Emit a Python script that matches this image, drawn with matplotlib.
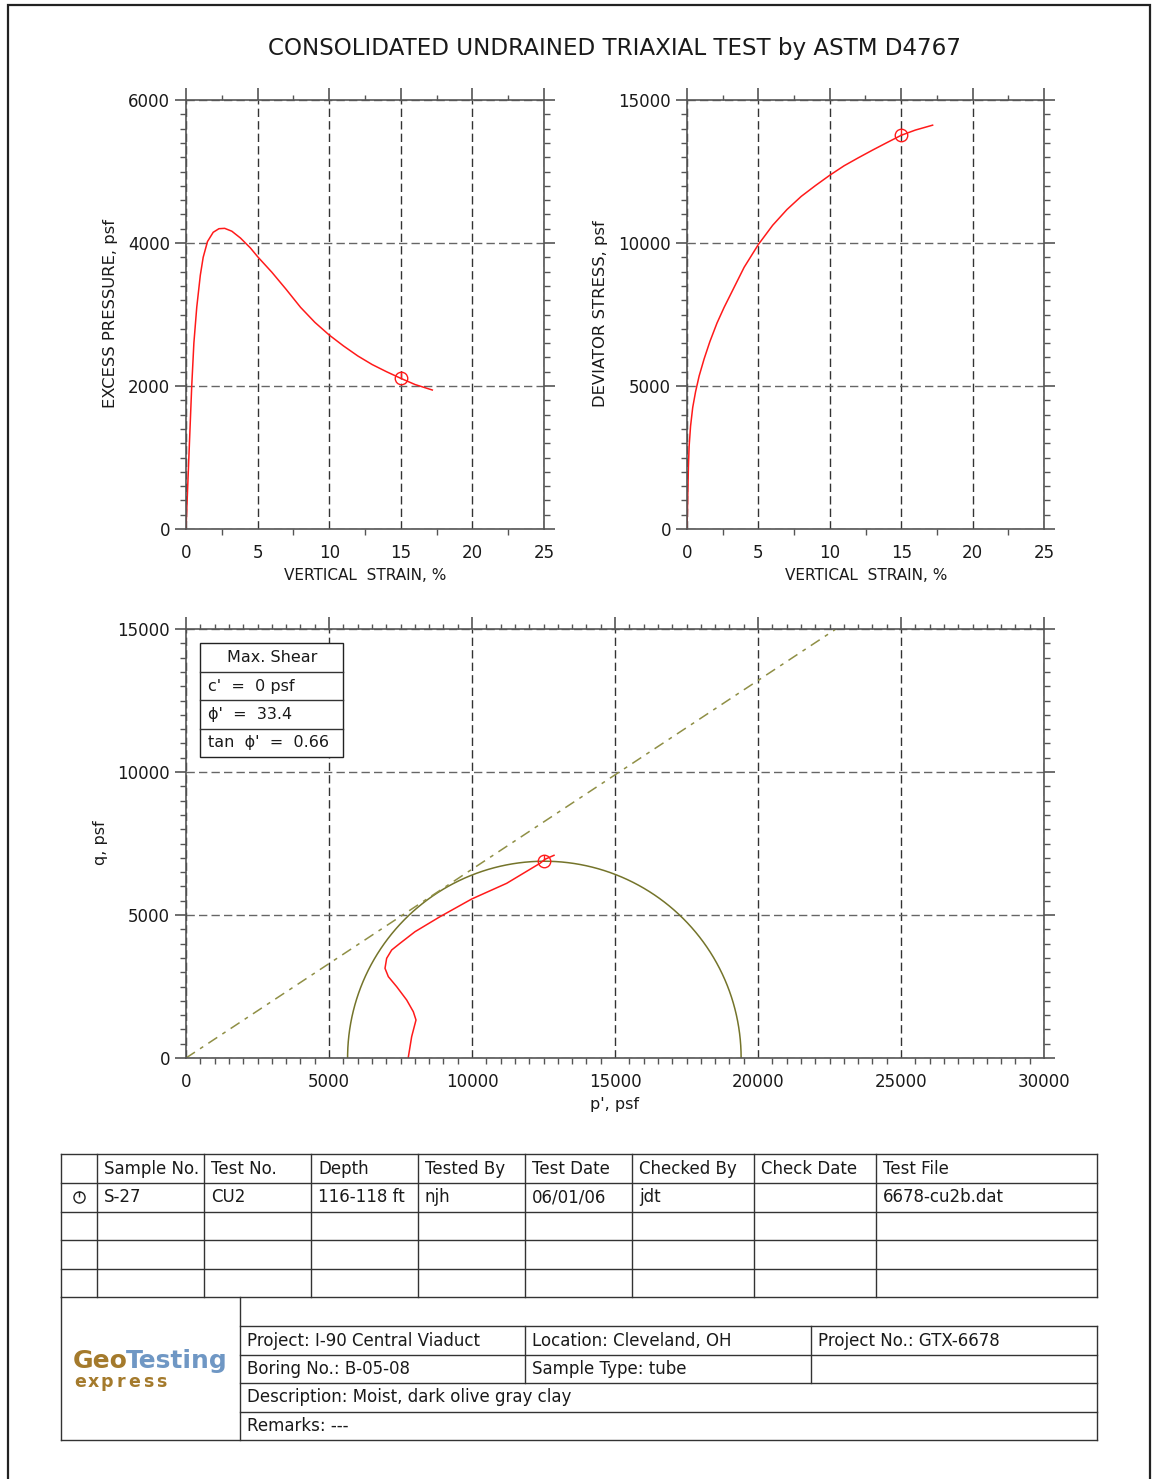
import numpy as np
import matplotlib
matplotlib.use('Agg')
import matplotlib.pyplot as plt
from matplotlib.ticker import MultipleLocator
from matplotlib.path import Path
from matplotlib.patches import Rectangle

plt.rcParams['font.family'] = ['DejaVu Sans']

# ---------------- data ----------------
title = "CONSOLIDATED UNDRAINED TRIAXIAL TEST by ASTM D4767"

strain_u = [0.0, 0.1, 0.2, 0.3, 0.4, 0.55, 0.75, 1.0, 1.2, 1.5, 1.9, 2.3, 2.7, 3.2, 3.8,
            4.5, 5.0, 6.0, 7.0, 8.0, 9.0, 10.0, 11.0, 12.0, 13.0, 14.0, 15.0, 16.0, 17.2]
excess_u = [0, 500, 1000, 1500, 2000, 2600, 3100, 3550, 3800, 4020, 4150, 4200, 4205, 4165, 4070,
            3930, 3809, 3590, 3350, 3100, 2890, 2713, 2560, 2420, 2300, 2200, 2107, 2020, 1944]

strain_d = [0.0, 0.03, 0.06, 0.1, 0.15, 0.25, 0.4, 0.6, 0.85, 1.2, 1.6, 2.1, 2.6, 3.2, 4.0,
            5.0, 6.0, 7.0, 8.0, 9.0, 10.0, 11.0, 12.0, 13.0, 14.0, 15.0, 16.0, 17.2]
dev_stress = [0, 600, 1300, 2200, 2900, 3600, 4250, 4800, 5350, 5950, 6550, 7200, 7750, 8350, 9150,
              9950, 10620, 11170, 11630, 12010, 12370, 12700, 12980, 13250, 13510, 13766, 13950, 14120]

p_path = [7773, 7890, 8042, 7948, 7716, 7366, 7075, 6958, 7016, 7191, 7483, 8007, 8881,
          9989, 11213, 12378, 12552, 12867]
q_path = [24, 745, 1329, 1619, 2028, 2494, 2844, 3136, 3485, 3776, 4010, 4416, 4941,
          5559, 6108, 6808, 6948, 7087]

fail_strain = 15.0
fail_u = 2107
fail_dev = 13766
fail_p = 12530
fail_q = 6880
sigma3_eff = 5650
sigma1_eff = 19410

c_eff = 0
phi_deg = 33.4
tan_phi = 0.66

strain_ticks = [0, 5, 10, 15, 20, 25]
u_ticks = [0, 2000, 4000, 6000]
dev_ticks = [0, 5000, 10000, 15000]
p_ticks = [0, 5000, 10000, 15000, 20000, 25000, 30000]
q_ticks = [0, 5000, 10000, 15000]

table_headers = ["", "Sample No.", "Test No.", "Depth", "Tested By", "Test Date",
                 "Checked By", "Check Date", "Test File"]
table_row1 = ["", "S-27", "CU2", "116-118 ft", "njh", "06/01/06", "jdt", "", "6678-cu2b.dat"]
project_info = ["Project: I-90 Central Viaduct", "Location: Cleveland, OH", "Project No.: GTX-6678"]
boring_info = ["Boring No.: B-05-08", "Sample Type: tube", ""]
description = "Description: Moist, dark olive gray clay"
remarks = "Remarks: ---"

# ---------------- styling ----------------
W, H = 1153, 1479
fig = plt.figure(figsize=(W / 100, H / 100), dpi=100)
px = 72 / 100.0  # points per pixel

RED = '#ff1a1a'
SPINE = '#555555'
TXT = '#1a1a1a'
OLIVE_C = '#74742a'
OLIVE_L = '#8f8f45'

circ = Path.unit_circle()
tick_line = Path([(0, 0), (0, 1)], [Path.MOVETO, Path.LINETO])
fail_marker = Path.make_compound_path(circ, tick_line)


def style_axes(ax, xmajor, xminor, ymajor, yminor, xlim, ylim):
    ax.set_xlim(*xlim)
    ax.set_ylim(*ylim)
    ax.set_xticks(xmajor)
    ax.set_yticks(ymajor)
    ax.xaxis.set_minor_locator(MultipleLocator(xminor))
    ax.yaxis.set_minor_locator(MultipleLocator(yminor))
    for s in ax.spines.values():
        s.set_color(SPINE)
        s.set_linewidth(1.2)
    ax.tick_params(axis='y', which='major', left=True, right=True, direction='out',
                   length=11 * px, width=1.2, color=SPINE, labelsize=12, labelcolor=TXT,
                   pad=5 * px)
    ax.tick_params(axis='y', which='minor', left=True, right=True, direction='out',
                   length=6 * px, width=1.0, color=SPINE)
    ax.tick_params(axis='x', which='major', bottom=True, top=False, direction='out',
                   length=0, labelsize=12, labelcolor=TXT, pad=15 * px)
    ax.tick_params(axis='x', which='minor', bottom=True, top=False, direction='out',
                   length=6 * px, width=1.0, color=SPINE)
    ax.xaxis.grid(True, which='major', ls=(0, (6, 3)), color='#333333', lw=1.0)
    ax.yaxis.grid(True, which='major', ls=(0, (6, 3)), color='#666666', lw=1.0)
    sec = ax.secondary_xaxis('top')
    sec.set_xticks(xmajor)
    sec.set_xticklabels([])
    sec.xaxis.set_minor_locator(MultipleLocator(xminor))
    sec.tick_params(which='major', direction='out', length=12 * px, width=1.2, color=SPINE)
    sec.tick_params(which='minor', direction='out', length=5 * px, width=1.0, color=SPINE)
    sec.spines['top'].set_visible(False)


def fax(l, t, r, b):
    return fig.add_axes([l / W, 1 - b / H, (r - l) / W, (b - t) / H])


# ---- top-left: excess pressure ----
ax1 = fax(186, 100, 544, 529)
style_axes(ax1, strain_ticks, 2.5, u_ticks, 200, (0, 25), (0, 6000))
ax1.plot(strain_u, excess_u, color=RED, lw=1.1)
ax1.plot([fail_strain], [fail_u], marker=fail_marker, ms=9, mfc='none', mec=RED, mew=1.0,
         ls='none')

# ---- top-right: deviator stress ----
ax2 = fax(687, 100, 1044, 529)
style_axes(ax2, strain_ticks, 2.5, dev_ticks, 500, (0, 25), (0, 15000))
ax2.plot(strain_d, dev_stress, color=RED, lw=1.1)
ax2.plot([fail_strain], [fail_dev], marker=fail_marker, ms=9, mfc='none', mec=RED, mew=1.0,
         ls='none')

# ---- bottom: p'-q ----
ax3 = fax(186, 629, 1044, 1058)
style_axes(ax3, p_ticks, 500, q_ticks, 500, (0, 30000), (0, 15000))
center = (sigma1_eff + sigma3_eff) / 2.0
radius = (sigma1_eff - sigma3_eff) / 2.0
th = np.linspace(0, np.pi, 300)
ax3.plot(center + radius * np.cos(th), radius * np.sin(th), color=OLIVE_C, lw=1.1)
p_line = np.array([0, 30000])
ax3.plot(p_line, c_eff + tan_phi * p_line, color=OLIVE_L, lw=1.1, ls=(0, (7, 4, 2.5, 4)))
ax3.plot(p_path, q_path, color=RED, lw=1.1)
ax3.plot([fail_p], [fail_q], marker=fail_marker, ms=9, mfc='none', mec=RED, mew=1.0,
         ls='none')

# ---------------- overlay (pixel coordinates) ----------------
ov = fig.add_axes([0, 0, 1, 1])
ov.set_xlim(0, W)
ov.set_ylim(H, 0)
ov.axis('off')
ov.patch.set_visible(False)

# outer border
ov.plot([8, 8, 1150, 1150], [H, 5, 5, H], color='#222222', lw=1.6, solid_joinstyle='miter')

# title and axis labels
ov.text(615, 48, title, ha='center', va='center', fontsize=16.6, color=TXT)
ov.text(110, 314, "EXCESS PRESSURE, psf", rotation=90, ha='center', va='center', fontsize=11.8, color=TXT)
ov.text(601, 314, "DEVIATOR STRESS, psf", rotation=90, ha='center', va='center', fontsize=11.8, color=TXT)
ov.text(365, 575, "VERTICAL  STRAIN, %", ha='center', va='center', fontsize=11, color=TXT)
ov.text(866, 575, "VERTICAL  STRAIN, %", ha='center', va='center', fontsize=11, color=TXT)
ov.text(101, 843, "q, psf", rotation=90, ha='center', va='center', fontsize=11.5, color=TXT)
ov.text(615, 1104, "p', psf", ha='center', va='center', fontsize=11.5, color=TXT)

# strength box
ov.add_patch(Rectangle((200, 643), 143, 114, facecolor='white', edgecolor='#222222', lw=1.0, zorder=3))
for yy in [672, 700, 729]:
    ov.plot([200, 343], [yy, yy], color='#333333', lw=1.0, zorder=4)
ov.text(272, 658, "Max. Shear", ha='center', va='center', fontsize=11.5, color=TXT, zorder=5)
ov.text(208, 686, f"c'  =  {c_eff} psf", ha='left', va='center', fontsize=11.5, color=TXT, zorder=5)
ov.text(208, 715, f"\u03d5'  =  {phi_deg}", ha='left', va='center', fontsize=11.5, color=TXT, zorder=5)
ov.text(208, 743, f"tan  \u03d5'  =  {tan_phi:.2f}", ha='left', va='center', fontsize=11.5, color=TXT, zorder=5)

# ---------------- table ----------------
LC = '#333333'
LW = 1.0
FS = 12
cols = [61, 97, 204, 311, 418, 525, 632, 754, 876, 1097]
rows = [1154, 1183, 1212, 1240, 1269, 1297]
for yy in rows:
    ov.plot([61, 1097], [yy, yy], color=LC, lw=LW)
for xx in cols:
    ov.plot([xx, xx], [1154, 1297], color=LC, lw=LW)
for i, h in enumerate(table_headers):
    if h:
        ov.text(cols[i] + 7, (rows[0] + rows[1]) / 2, h, ha='left', va='center', fontsize=FS, color=TXT)
for i, v in enumerate(table_row1):
    if v:
        ov.text(cols[i] + 7, (rows[1] + rows[2]) / 2, v, ha='left', va='center', fontsize=FS, color=TXT)
ov.plot([79], [1197], marker=fail_marker, ms=8, mfc='none', mec='#222222', mew=1.0, ls='none')

# lower block
ov.plot([61, 61], [1297, 1440], color=LC, lw=LW)
ov.plot([240, 240], [1297, 1440], color=LC, lw=LW)
ov.plot([1097, 1097], [1326, 1440], color=LC, lw=LW)
for yy in [1326, 1355, 1383, 1412]:
    ov.plot([240, 1097], [yy, yy], color=LC, lw=LW)
ov.plot([61, 1097], [1440, 1440], color=LC, lw=LW)
for xx in [525, 811]:
    ov.plot([xx, xx], [1326, 1383], color=LC, lw=LW)
for i, v in enumerate(project_info):
    ov.text([240, 525, 811][i] + 7, 1340.5, v, ha='left', va='center', fontsize=FS, color=TXT)
for i, v in enumerate(boring_info):
    if v:
        ov.text([240, 525, 811][i] + 7, 1369, v, ha='left', va='center', fontsize=FS, color=TXT)
ov.text(247, 1397.5, description, ha='left', va='center', fontsize=FS, color=TXT)
ov.text(247, 1426, remarks, ha='left', va='center', fontsize=FS, color=TXT)

# logo
BROWN = '#a47a2c'
BLUE = '#6f97c4'
ov.text(73, 1361, "Geo", ha='left', va='center', fontsize=18, fontweight='bold', color=BROWN)
ov.text(126, 1361, "Testing", ha='left', va='center', fontsize=18, fontweight='bold', color=BLUE)
for k, ch in enumerate("express"):
    ov.text(80 + k * 13.6, 1382, ch, ha='center', va='center', fontsize=12.5, fontweight='bold', color=BROWN)

fig.savefig('out.png', dpi=100)
